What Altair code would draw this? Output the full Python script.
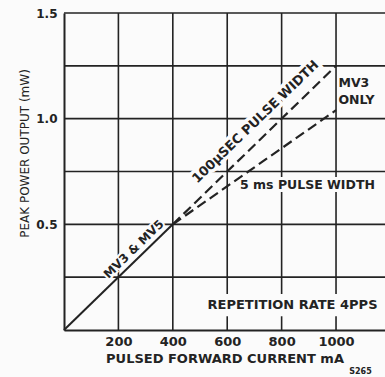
import altair as alt
import pandas as pd

# ---- data ----
base_current = [0, 400]
base_power = [0.0, 0.5]
us100_current = [400, 1000]
us100_power = [0.5, 1.25]
ms5_current = [400, 1000]
ms5_power = [0.5, 1.04]

x_ticks = [200, 400, 600, 800, 1000]
y_ticks = [0.5, 1.0, 1.5]
hgrid = [0.25, 0.5, 0.75, 1.0, 1.25, 1.5]
vgrid_x = [200, 400, 600, 800, 1000]
vgrid_lo = [0.0, 0.0, 0.17, 0.17, 0.17]
vtick_x = [600, 800, 1000]
vtick_hi = [0.065, 0.065, 0.065]

XMAX = 1180
INK = "#232323"
BG = "#fbfbfb"
FONT = "DejaVu Sans"

xs = alt.Scale(domain=[0, XMAX], nice=False, zero=True)
ys = alt.Scale(domain=[0, 1.5], nice=False)

lines_df = pd.DataFrame({
    "I": base_current + us100_current + ms5_current,
    "P": base_power + us100_power + ms5_power,
    "s": ["base"] * 2 + ["us100"] * 2 + ["ms5"] * 2,
})

hg = pd.DataFrame({"y": hgrid, "x0": [0] * len(hgrid), "x1": [XMAX] * len(hgrid)})
vg = pd.DataFrame({"x": vgrid_x, "lo": vgrid_lo, "hi": [1.5] * len(vgrid_x)})
vt = pd.DataFrame({"x": vtick_x, "lo": [0.0] * 3, "hi": vtick_hi})

hrule = alt.Chart(hg).mark_rule(color=INK, strokeWidth=1.6).encode(
    x=alt.X("x0:Q", scale=xs,
            axis=alt.Axis(values=x_ticks, format="d", title="PULSED FORWARD CURRENT mA",
                          grid=False, ticks=False, domainColor=INK, domainWidth=2,
                          labelFont=FONT, labelFontWeight="bold", labelFontSize=13,
                          labelColor=INK, labelPadding=5, titleFont=FONT, titleFontSize=13,
                          titleFontWeight="bold", titleColor=INK, titlePadding=4)),
    x2="x1:Q",
    y=alt.Y("y:Q", scale=ys,
            axis=alt.Axis(values=y_ticks, format=".1f", title="PEAK POWER OUTPUT (mW)",
                          grid=False, ticks=False, domainColor=INK, domainWidth=2,
                          labelFont=FONT, labelFontWeight="bold", labelFontSize=12,
                          labelColor=INK, labelPadding=7, titleFont=FONT, titleFontSize=12,
                          titleFontWeight="normal", titleColor=INK, titlePadding=4,
                          titleY=140)),
)

vrule = alt.Chart(vg).mark_rule(color=INK, strokeWidth=1.6).encode(
    x=alt.X("x:Q", scale=xs), y=alt.Y("lo:Q", scale=ys), y2="hi:Q")
vtick = alt.Chart(vt).mark_rule(color=INK, strokeWidth=1.6).encode(
    x=alt.X("x:Q", scale=xs), y=alt.Y("lo:Q", scale=ys), y2="hi:Q")

solid = alt.Chart(lines_df[lines_df.s == "base"]).mark_line(color=INK, strokeWidth=2).encode(
    x=alt.X("I:Q", scale=xs), y=alt.Y("P:Q", scale=ys))
dashed = alt.Chart(lines_df[lines_df.s != "base"]).mark_line(
    color=INK, strokeWidth=2.2, strokeDash=[10, 5]).encode(
    x=alt.X("I:Q", scale=xs), y=alt.Y("P:Q", scale=ys), detail="s:N")

lab_text = ["MV3 & MV5", "100\u03bcSEC PULSE WIDTH", "5 ms PULSE WIDTH", "REPETITION RATE 4PPS",
            "MV3", "ONLY"]
lab_x = [256, 704, 895, 840, 1009, 1009]
lab_y = [0.383, 0.985, 0.686, 0.118, 1.17, 1.09]
lab_angle = [316, 316, 0, 0, 0, 0]
lab_align = ["center", "center", "center", "center", "left", "left"]
lab_size = [12, 13, 12.5, 13, 12.5, 12.5]
lab_halo = [4, 7, 6, 0, 0, 0]
labels = pd.DataFrame({"t": lab_text, "x": lab_x, "y": lab_y, "a": lab_angle,
                       "al": lab_align, "fs": lab_size, "h": lab_halo})

halos = []
texts = []
for _, r in labels.iterrows():
    d = pd.DataFrame([r])
    enc = dict(x=alt.X("x:Q", scale=xs), y=alt.Y("y:Q", scale=ys), text="t:N")
    if r.h > 0:
        halos.append(alt.Chart(d).mark_text(
            font=FONT, fontSize=float(r.fs), fontWeight="bold", color=BG, stroke=BG,
            strokeWidth=float(r.h), angle=int(r.a), align=r.al, baseline="middle").encode(**enc))
    texts.append(alt.Chart(d).mark_text(
        font=FONT, fontSize=float(r.fs), fontWeight="bold", color=INK, angle=int(r.a),
        align=r.al, baseline="middle").encode(**enc))

code = alt.Chart(pd.DataFrame({"t": ["S265"], "x": [1090], "y": [-0.198]})).mark_text(
    font=FONT, fontSize=8, fontWeight="bold", color=INK, clip=False).encode(
    x=alt.X("x:Q", scale=xs), y=alt.Y("y:Q", scale=ys), text="t:N")

chart = alt.layer(hrule, vrule, vtick, *halos, solid, dashed, *texts, code).properties(
    width=385 - 64, height=317,
    autosize=alt.AutoSizeParams(type="none"),
    padding={"left": 64, "top": 13, "right": 0, "bottom": 47},
    background=BG,
).configure_view(stroke=None)

chart.save("out.html", embed_options={"renderer": "svg", "actions": False})
